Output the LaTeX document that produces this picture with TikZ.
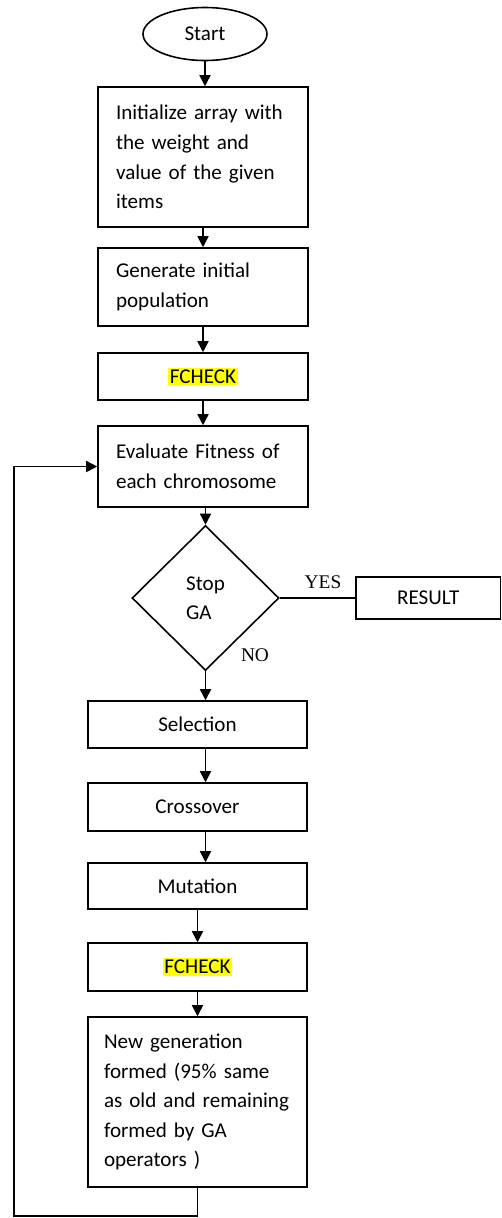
\documentclass[tikz,border=0pt]{standalone}
\usepackage{fontspec}
\setmainfont{Carlito}
\newfontfamily\answerfont{Liberation Serif}
\usetikzlibrary{shapes.geometric,arrows.meta}
\newcommand{\flowfont}{\fontsize{12}{16.8}\selectfont}
\newcommand{\marked}[1]{\setlength{\fboxsep}{1pt}\colorbox[RGB]{255,255,0}{#1}}
\tikzset{
  block/.style={draw, line width=0.9pt, inner sep=0pt, font=\flowfont},
  leftblock/.style={block, align=left, text width=#1, inner xsep=0.36cm},
  flow/.style={line width=0.9pt, -{Triangle[length=0.22cm,width=0.22cm]}},
  answer/.style={font=\answerfont\fontsize{11}{13}\selectfont},
}
\begin{document}
\begin{tikzpicture}[x=0.02cm, y=-0.02cm]
\useasboundingbox (0,0) rectangle (502,1218);
% main column
\node[block, ellipse, minimum width=2.48cm, minimum height=1.06cm] (start) at (205,34) {Start};
\node[leftblock=3.48cm, minimum height=2.8cm] (init) at (203,157) {Initialize array with\\the weight and\\value of the given\\items};
\node[leftblock=3.48cm, minimum height=1.56cm] (gen) at (203,287) {Generate initial\\population};
\node[block, minimum width=4.2cm, minimum height=0.94cm] (fc1) at (203,376.5) {\marked{FCHECK}};
\node[leftblock=3.48cm, minimum height=1.62cm] (eval) at (203,466.5) {Evaluate Fitness of\\each chromosome};
\node[block, diamond, minimum width=2.94cm, minimum height=2.9cm, align=left] (stop) at (205.5,598) {Stop\\GA};
\node[block, minimum width=2.89cm, minimum height=0.84cm] (result) at (428.25,598) {RESULT};
\node[block, minimum width=4.38cm, minimum height=0.94cm] (sel) at (197.5,724.5) {Selection};
\node[block, minimum width=4.38cm, minimum height=0.96cm] (cross) at (197.5,807) {Crossover};
\node[block, minimum width=4.38cm, minimum height=0.92cm] (mut) at (197.5,886) {Mutation};
\node[block, minimum width=4.38cm, minimum height=0.96cm] (fc2) at (197.5,967) {\marked{FCHECK}};
\node[leftblock=3.74cm, inner xsep=0.32cm, minimum height=3.4cm] (newgen) at (197.5,1102) {New generation\\formed (95\% same\\as old and remaining\\formed by GA\\operators )};
% branch labels
\node[answer] (yes) at (323,582) {YES};
\node[answer] (no) at (255,655) {NO};
% connectors
\draw[flow] (start.south) -- (start.south |- init.north);
\draw[flow] (init) -- (gen);
\draw[flow] (gen) -- (fc1);
\draw[flow] (fc1) -- (eval);
\draw[flow] (stop.north |- eval.south) -- (stop.north);
\draw[line width=0.9pt] (stop.east) -- (result.west);
\draw[flow] (stop.south) -- (stop.south |- sel.north);
\draw[flow] (stop.south |- sel.south) -- (stop.south |- cross.north);
\draw[flow] (stop.south |- cross.south) -- (stop.south |- mut.north);
\draw[flow] (mut) -- (fc2);
\draw[flow] (fc2) -- (newgen);
% loop back
\coordinate (back) at (14,1216);
\draw[flow] (newgen.south) |- (back) |- (eval.west);
\end{tikzpicture}
\end{document}
